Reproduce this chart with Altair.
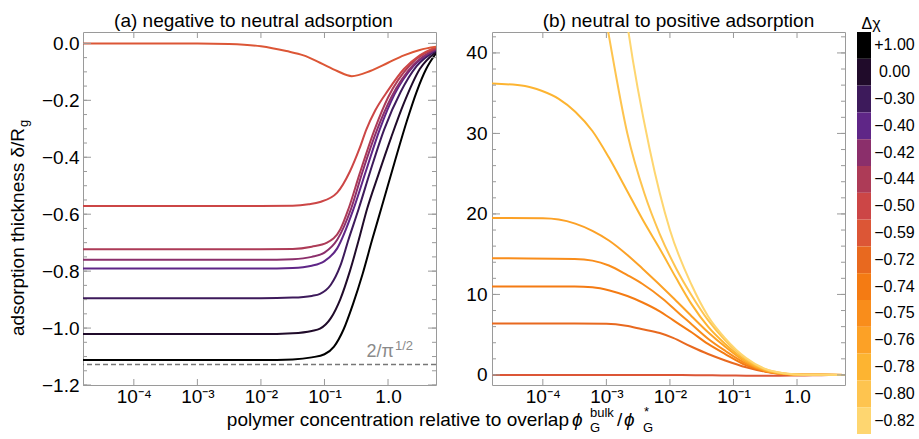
import altair as alt
import pandas as pd

FONT = "Liberation Sans"
GRAY = "#9a9a9a"

# ---- colour bar (Delta chi levels) ----
levels = ["+1.00", "0.00", "−0.30", "−0.40", "−0.42", "−0.44", "−0.50", "−0.59",
          "−0.72", "−0.74", "−0.75", "−0.76", "−0.78", "−0.80", "−0.82"]
level_colors = ["#000000", "#200b2a", "#3d1a5b", "#5f2687", "#8b2f6b", "#ad3b57",
                "#cc4646", "#dc5636", "#e8691f", "#f47b13", "#f98d1b", "#fca126",
                "#fdb431", "#fec44f", "#fed670"]

# ---- panel (a): log10(phi/phi*) and delta/Rg ----
a_p100_lx = [-4.8, -2.0, -1.5, -1.2, -1.0, -0.85, -0.7, -0.55, -0.4, -0.25, -0.1, 0.1, 0.3, 0.45, 0.6, 0.755]
a_p100_y = [-1.112, -1.112, -1.110, -1.103, -1.092, -1.065, -1.005, -0.915, -0.81, -0.69, -0.575, -0.42, -0.27, -0.17, -0.09, -0.035]
a_000_lx = [-4.8, -2.0, -1.5, -1.2, -1.07, -0.9, -0.75, -0.6, -0.46, -0.33, -0.15, 0.05, 0.25, 0.5, 0.755]
a_000_y = [-1.021, -1.021, -1.018, -1.010, -1.002, -0.965, -0.898, -0.80, -0.69, -0.582, -0.46, -0.33, -0.21, -0.09, -0.03]
a_030_lx = [-4.8, -2.0, -1.5, -1.2, -1.07, -0.9, -0.75, -0.62, -0.46, -0.28, -0.06, 0.2, 0.45, 0.755]
a_030_y = [-0.895, -0.895, -0.893, -0.887, -0.880, -0.848, -0.781, -0.688, -0.58, -0.45, -0.302, -0.17, -0.08, -0.025]
a_040_lx = [-4.8, -2.0, -1.5, -1.2, -1.0, -0.8, -0.54, -0.35, -0.13, 0.1, 0.4, 0.755]
a_040_y = [-0.791, -0.791, -0.789, -0.781, -0.765, -0.72, -0.58, -0.45, -0.302, -0.18, -0.08, -0.022]
a_042_lx = [-4.8, -2.0, -1.5, -1.2, -1.0, -0.8, -0.58, -0.4, -0.17, 0.05, 0.4, 0.755]
a_042_y = [-0.760, -0.760, -0.758, -0.750, -0.735, -0.69, -0.58, -0.45, -0.302, -0.19, -0.075, -0.02]
a_044_lx = [-4.8, -2.0, -1.5, -1.2, -0.96, -0.75, -0.62, -0.45, -0.21, 0.0, 0.35, 0.755]
a_044_y = [-0.723, -0.723, -0.722, -0.714, -0.700, -0.653, -0.58, -0.46, -0.302, -0.19, -0.075, -0.018]
a_050_lx = [-4.8, -2.0, -1.5, -1.25, -1.07, -0.8, -0.6, -0.45, -0.34, -0.2, 0.0, 0.25, 0.5, 0.755]
a_050_y = [-0.571, -0.571, -0.570, -0.565, -0.557, -0.524, -0.45, -0.37, -0.302, -0.235, -0.165, -0.09, -0.042, -0.013]
n_059_lx = [-4.8, -3.0, -2.5, -2.0, -1.6, -1.33, -1.07, -0.8, -0.57, -0.28, 0.0, 0.25, 0.5, 0.755]
n_059_y = [0.0, 0.0, -0.002, -0.01, -0.027, -0.042, -0.068, -0.097, -0.115, -0.097, -0.068, -0.042, -0.023, -0.012]

# ---- panel (b) ----
b_072_lx = [-4.8, -3.5, -3.0, -2.69, -2.45, -2.16, -1.95, -1.66, -1.4, -1.13, -0.8, -0.5, -0.2, 0.1, 0.755]
b_072_y = [6.4, 6.4, 6.35, 6.1, 5.7, 5.2, 4.6, 3.5, 2.6, 1.8, 0.95, 0.4, 0.1, 0.02, 0.0]
b_074_lx = [-4.8, -3.5, -3.22, -2.95, -2.67, -2.43, -2.16, -1.95, -1.66, -1.4, -1.13, -0.8, -0.5, -0.2, 0.1, 0.755]
b_074_y = [11.0, 11.0, 10.9, 10.5, 9.8, 9.0, 7.9, 6.8, 5.3, 3.85, 2.6, 1.2, 0.45, 0.12, 0.02, 0.0]
b_075_lx = [-4.8, -3.5, -3.22, -2.96, -2.67, -2.43, -2.11, -1.85, -1.66, -1.4, -1.13, -0.8, -0.5, -0.2, 0.1, 0.755]
b_075_y = [14.5, 14.4, 14.2, 13.6, 12.4, 11.3, 9.44, 7.6, 6.3, 4.5, 3.0, 1.4, 0.5, 0.13, 0.02, 0.0]
b_076_lx = [-4.8, -4.0, -3.75, -3.49, -3.22, -2.96, -2.67, -2.43, -1.93, -1.66, -1.4, -1.13, -0.8, -0.5, -0.2, 0.1, 0.755]
b_076_y = [19.5, 19.45, 19.3, 18.8, 17.9, 16.7, 14.9, 13.2, 9.44, 7.3, 5.3, 3.5, 1.6, 0.55, 0.14, 0.02, 0.0]
b_078_lx = [-4.8, -4.28, -4.02, -3.75, -3.49, -3.22, -2.96, -2.69, -2.43, -2.14, -1.9, -1.66, -1.4, -1.13, -0.8, -0.5, -0.2, 0.1, 0.755]
b_078_y = [36.2, 35.9, 35.3, 34.3, 32.7, 30.3, 27.0, 23.1, 19.3, 15.4, 12.0, 8.8, 6.0, 3.85, 1.75, 0.62, 0.16, 0.02, 0.0]
b_080_lx = [-3.2, -2.98, -2.67, -2.4, -2.16, -1.9, -1.66, -1.4, -1.13, -0.8, -0.5, -0.2, 0.1, 0.755]
b_080_y = [53.0, 43.0, 30.0, 22.5, 17.5, 13.2, 9.9, 6.8, 4.3, 1.95, 0.7, 0.18, 0.02, 0.0]
b_082_lx = [-2.9, -2.66, -2.32, -2.0, -1.66, -1.4, -1.13, -0.8, -0.5, -0.2, 0.1, 0.755]
b_082_y = [58.0, 43.0, 28.1, 18.0, 11.2, 7.3, 4.55, 2.1, 0.75, 0.2, 0.02, 0.0]

limit_2_over_sqrt_pi = -1.128
x_tick_values = [1e-4, 1e-3, 1e-2, 1e-1, 1.0]
ya_major = [0.0, -0.2, -0.4, -0.6, -0.8, -1.0, -1.2]
yb_major = [0, 10, 20, 30, 40]

panel_a = {"+1.00": (a_p100_lx, a_p100_y), "0.00": (a_000_lx, a_000_y),
           "−0.30": (a_030_lx, a_030_y), "−0.40": (a_040_lx, a_040_y),
           "−0.42": (a_042_lx, a_042_y), "−0.44": (a_044_lx, a_044_y),
           "−0.50": (a_050_lx, a_050_y), "−0.59": (n_059_lx, n_059_y)}
panel_b = {"−0.59": (n_059_lx, n_059_y), "−0.72": (b_072_lx, b_072_y),
           "−0.74": (b_074_lx, b_074_y), "−0.75": (b_075_lx, b_075_y),
           "−0.76": (b_076_lx, b_076_y), "−0.78": (b_078_lx, b_078_y),
           "−0.80": (b_080_lx, b_080_y), "−0.82": (b_082_lx, b_082_y)}


def frame(curves):
    rows = []
    for k, (lx, ys) in curves.items():
        for e, v in zip(lx, ys):
            rows.append({"dchi": k, "x": 10 ** e, "y": v})
    return pd.DataFrame(rows)


W = H = 353
xscale = alt.Scale(type="log", domain=[10 ** -4.8, 10 ** 0.755], nice=False)
ya_scale = alt.Scale(domain=[-1.2, 0.04], nice=False, zero=False)
yb_scale = alt.Scale(domain=[-1.25, 42.6], nice=False, zero=False)
cscale = alt.Scale(domain=levels, range=level_colors)

xlab = ("datum.value < 0.0005 ? '10⁻⁴' : datum.value < 0.005 ? '10⁻³' : "
        "datum.value < 0.05 ? '10⁻²' : datum.value < 0.5 ? '10⁻¹' : '1.0'")
xaxis = alt.Axis(values=x_tick_values, labelExpr=xlab, title=None, ticks=False, domain=False,
                 grid=False, labelFontSize=19, labelPadding=2, labelColor="black", labelFont=FONT)
ya_axis = alt.Axis(values=ya_major, format=".1f", title=None, ticks=False, domain=False, grid=False,
                   labelFontSize=19, labelPadding=4, labelColor="black", labelFont=FONT)
yb_axis = alt.Axis(values=yb_major, format="d", title=None, ticks=False, domain=False, grid=False,
                   labelFontSize=19, labelPadding=5, labelColor="black", labelFont=FONT)


def lines(df, yscale, yaxis):
    return alt.Chart(df).mark_line(strokeWidth=2, clip=True, interpolate="monotone").encode(
        x=alt.X("x:Q", scale=xscale, axis=xaxis),
        y=alt.Y("y:Q", scale=yscale, axis=yaxis),
        color=alt.Color("dchi:N", scale=cscale, legend=None),
    )


def yticks(vals, length, yscale, yaxis):
    base = alt.Chart(pd.DataFrame({"y": vals})).mark_rule(color=GRAY, strokeWidth=1)
    left = base.encode(y=alt.Y("y:Q", scale=yscale, axis=yaxis), x=alt.value(0), x2=alt.value(length))
    right = base.encode(y=alt.Y("y:Q", scale=yscale, axis=yaxis), x=alt.value(W), x2=alt.value(W - length))
    return left + right


def xticks():
    base = alt.Chart(pd.DataFrame({"x": x_tick_values})).mark_rule(color=GRAY, strokeWidth=1)
    bot = base.encode(x=alt.X("x:Q", scale=xscale, axis=xaxis), y=alt.value(H), y2=alt.value(H - 6))
    top = base.encode(x=alt.X("x:Q", scale=xscale, axis=xaxis), y=alt.value(0), y2=alt.value(6))
    return bot + top


def txt(s, x, y, size=19, align="left", angle=0, style="normal", color="black"):
    return alt.Chart(pd.DataFrame({"t": [s]})).mark_text(
        align=align, baseline="alphabetic", fontSize=size, angle=angle, fontStyle=style,
        color=color, font=FONT).encode(text="t:N", x=alt.value(x), y=alt.value(y))


ya_minor = [round(-0.05 * i, 2) for i in range(25)]
yb_minor = [2 * i for i in range(22)]

dashed = alt.Chart(pd.DataFrame({"y": [limit_2_over_sqrt_pi]})).mark_rule(
    color="#777777", strokeWidth=1.5, strokeDash=[5, 3]).encode(
    y=alt.Y("y:Q", scale=ya_scale, axis=ya_axis))

ox, oy = 86, 33
left = alt.layer(
    lines(frame(panel_a), ya_scale, ya_axis),
    yticks(ya_minor, 4, ya_scale, ya_axis), yticks(ya_major, 8, ya_scale, ya_axis), xticks(),
    dashed,
    txt("2/π", 397 - ox, 358 - oy, size=18, align="right", color="#8a8a8a"),
    txt("1/2", 398 - ox, 351 - oy, size=13, color="#8a8a8a"),
    txt("adsorption thickness δ/R", 27 - ox, 337 - oy, angle=270),
    txt("g", 31 - ox, 128 - oy, size=13, angle=270),
    txt("polymer concentration relative to overlap", 572 - ox, 427 - oy, align="right"),
    txt("ϕ", 575 - ox, 427 - oy, style="italic"),
    txt("G", 593 - ox, 433 - oy, size=13),
    txt("bulk", 593 - ox, 418 - oy, size=13),
    txt("/", 620 - ox, 427 - oy),
    txt("ϕ", 627 - ox, 427 - oy, style="italic"),
    txt("G", 646 - ox, 433 - oy, size=13),
    txt("*", 647 - ox, 417 - oy, size=13),
).properties(width=W, height=H, view=alt.ViewBackground(stroke=GRAY, strokeWidth=1),
             title=alt.TitleParams("(a) negative to neutral adsorption", fontSize=19, fontWeight="normal",
                                   font=FONT, anchor="middle", baseline="alphabetic", offset=-14, dx=-6))

right = alt.layer(
    lines(frame(panel_b), yb_scale, yb_axis),
    yticks(yb_minor, 4, yb_scale, yb_axis), yticks(yb_major, 8, yb_scale, yb_axis), xticks(),
).properties(width=W, height=H, view=alt.ViewBackground(stroke=GRAY, strokeWidth=1),
             title=alt.TitleParams("(b) neutral to positive adsorption", fontSize=19, fontWeight="normal",
                                   font=FONT, anchor="middle", baseline="alphabetic", offset=-14, dx=10))

spacer = alt.Chart(pd.DataFrame({"a": [0]})).mark_point(opacity=0).encode(
    x=alt.value(0), y=alt.value(0)).properties(width=32, height=10, view=alt.ViewBackground(strokeOpacity=0))

cbar = alt.Chart(pd.DataFrame({"lab": levels})).mark_rect().encode(
    y=alt.Y("lab:N", sort=levels, scale=alt.Scale(paddingInner=0, paddingOuter=0),
            axis=alt.Axis(orient="right", title=None, ticks=False, domain=False, labelAlign="center",
                          labelPadding=23, labelFontSize=16, labelColor="black", labelFont=FONT)),
    color=alt.Color("lab:N", scale=cscale, legend=None),
).properties(width=14, height=402, view=alt.ViewBackground(strokeOpacity=0),
             title=alt.TitleParams("Δχ", fontSize=16, fontWeight="normal", font=FONT, anchor="middle",
                                   baseline="alphabetic", offset=-13, dx=7))

chart = alt.hconcat(left, spacer, right, cbar, spacing=12, bounds="flush").properties(
    padding={"left": 8, "top": 11, "right": 0, "bottom": 0}
).configure(font=FONT).configure_view(stroke=None)

chart.save("out.html", embed_options={"renderer": "svg", "actions": False})
